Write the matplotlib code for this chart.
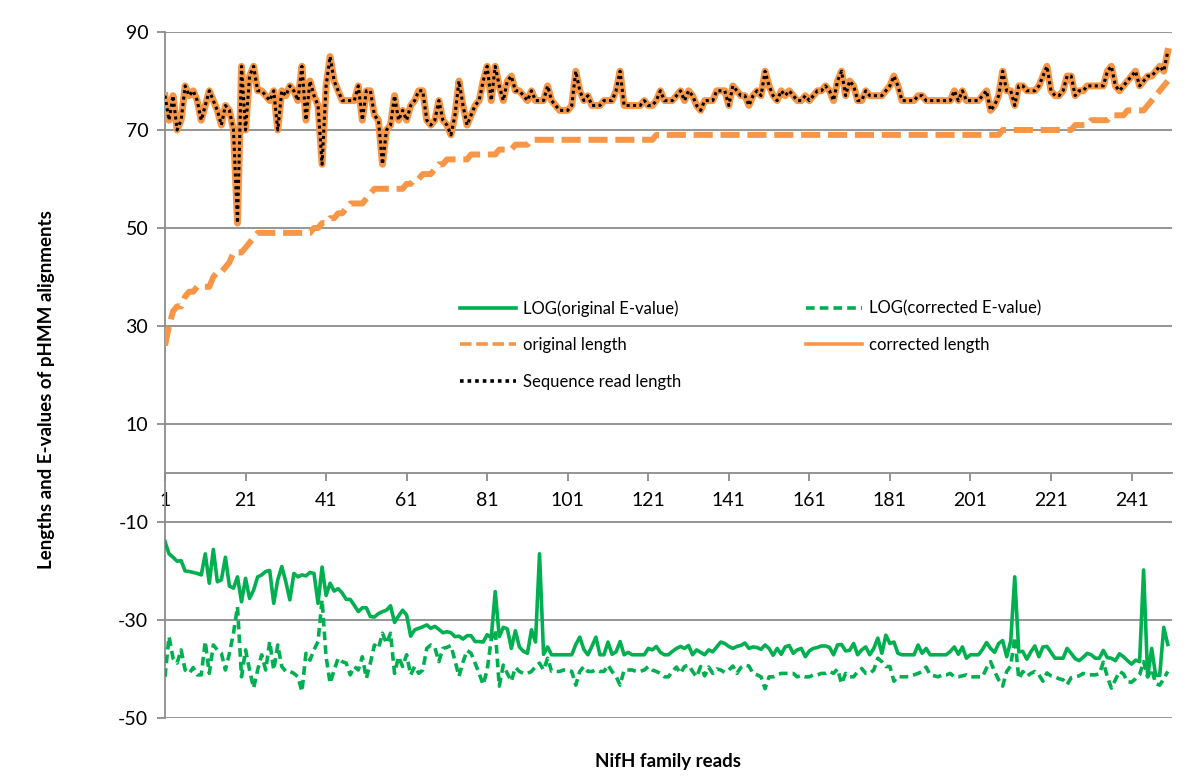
import numpy as np
import matplotlib
matplotlib.use('Agg')
import matplotlib.pyplot as plt

plt.rcParams['font.family'] = ['Lato', 'DejaVu Sans']
plt.rcParams['axes.unicode_minus'] = False

# Sequence read length (black dotted) and corrected length (orange solid) coincide
seq_read_len = [
    77, 72, 77, 70, 72, 79, 77, 78, 76, 72, 75, 78, 76, 74, 71, 75, 74, 70, 51, 83,
    70, 81, 83, 78, 78, 77, 76, 78, 70, 78, 77, 79, 78, 76, 83, 72, 80, 77, 75, 63,
    79, 85, 80, 78, 76, 76, 76, 76, 79, 72, 78, 78, 73, 72, 63, 70, 71, 77, 72, 74,
    72, 75, 76, 78, 78, 72, 71, 72, 76, 72, 71, 69, 73, 80, 75, 71, 73, 75, 76, 80,
    83, 76, 83, 79, 76, 80, 81, 78, 78, 77, 76, 78, 76, 76, 76, 79, 76, 75, 74, 74,
    74, 75, 82, 78, 76, 77, 75, 75, 75, 76, 76, 76, 78, 82, 75, 75, 75, 75, 75, 76,
    75, 75, 76, 78, 76, 76, 76, 77, 78, 76, 78, 77, 75, 74, 76, 76, 76, 78, 78, 78,
    75, 79, 78, 77, 77, 75, 77, 78, 77, 82, 79, 77, 76, 78, 77, 78, 77, 76, 76, 77,
    76, 77, 78, 78, 79, 78, 76, 80, 82, 77, 80, 79, 76, 76, 78, 77, 77, 77, 77, 78,
    79, 81, 79, 76, 76, 76, 76, 77, 77, 76, 76, 76, 76, 76, 76, 76, 78, 76, 78, 76,
    76, 76, 76, 77, 78, 74, 75, 77, 82, 78, 78, 75, 79, 79, 78, 78, 78, 79, 81, 83,
    78, 77, 77, 78, 81, 81, 77, 78, 78, 79, 79, 79, 79, 79, 82, 83, 79, 78, 79, 80,
    81, 82, 79, 80, 81, 81, 82, 83, 82, 86,
]
corrected_len = list(seq_read_len)

original_len = [
    26, 30, 33, 34, 34, 36, 37, 37, 38, 38, 38, 38, 40, 41, 41, 42, 43, 45, 45, 45,
    46, 47, 48, 49, 49, 49, 49, 49, 49, 49, 49, 49, 49, 49, 49, 49, 49, 50, 50, 51,
    51, 52, 52, 53, 53, 54, 55, 55, 55, 55, 56, 57, 58, 58, 58, 58, 58, 58, 58, 58,
    59, 59, 60, 60, 61, 61, 61, 62, 63, 63, 64, 64, 64, 64, 64, 64, 65, 65, 65, 65,
    65, 65, 65, 66, 66, 66, 66, 67, 67, 67, 67, 68, 68, 68, 68, 68, 68, 68, 68, 68,
    68, 68, 68, 68, 68, 68, 68, 68, 68, 68, 68, 68, 68, 68, 68, 68, 68, 68, 68, 68,
    68, 68, 69, 69, 69, 69, 69, 69, 69, 69, 69, 69, 69, 69, 69, 69, 69, 69, 69, 69,
    69, 69, 69, 69, 69, 69, 69, 69, 69, 69, 69, 69, 69, 69, 69, 69, 69, 69, 69, 69,
    69, 69, 69, 69, 69, 69, 69, 69, 69, 69, 69, 69, 69, 69, 69, 69, 69, 69, 69, 69,
    69, 69, 69, 69, 69, 69, 69, 69, 69, 69, 69, 69, 69, 69, 69, 69, 69, 69, 69, 69,
    69, 69, 69, 69, 69, 69, 69, 69, 70, 70, 70, 70, 70, 70, 70, 70, 70, 70, 70, 70,
    70, 70, 70, 70, 70, 70, 71, 71, 71, 71, 72, 72, 72, 72, 72, 73, 73, 73, 73, 74,
    74, 74, 74, 74, 75, 76, 77, 78, 79, 80,
]

log_orig_e = [
    -14, -16.5, -17.2, -18, -17.9, -20, -20.1, -20.3, -20.5, -20.8,
    -16.5, -22.5, -15.6, -22.2, -21.8, -17.2, -23.1, -23.5, -21.2, -26.3,
    -21.5, -25.6, -23.9, -21.2, -20.8, -20.1, -19.9, -26.6, -21.8, -19.1,
    -22.2, -25.9, -20.5, -21.2, -20.8, -21, -20.3, -20.5, -26.6, -19.2,
    -25, -22.5, -24.1, -23.6, -24.5, -25.8, -25.8, -27, -28.3, -27.5,
    -27.5, -29.3, -29.4, -28.7, -28.3, -28, -27.1, -30.5, -29.2, -28,
    -29, -33.3, -32, -31.7, -31.4, -31, -31.7, -31.3, -31.9, -32.6,
    -32.4, -32.6, -33.4, -33.3, -33.9, -33.2, -33.2, -34.4, -34.4, -34.5,
    -33, -33.6, -24.2, -33.4, -31.5, -31.8, -35.8, -32.2, -35.5, -36.4,
    -36.8, -32, -34.5, -16.5, -37, -35.5, -37.1, -37.1, -37.1, -37.1,
    -37.1, -37.1, -35, -33.5, -36, -37.1, -35.4, -33.5, -37.1, -37.1,
    -34.5, -37, -36.5, -34.4, -37.1, -36.6, -37.1, -37.1, -37.1, -37.1,
    -35.8, -36.1, -35.4, -36.6, -37.1, -37.1, -36.4, -35.8, -35.4, -35.8,
    -35.2, -37.1, -36.1, -36.6, -37.1, -36.1, -36.5, -35.5, -34.5, -34.8,
    -35.4, -35.8, -35.4, -35.2, -34.7, -35.8, -35.5, -35.6, -36, -35.1,
    -35.8, -37.2, -35.8, -37, -35.5, -35.2, -36.8, -36.1, -35.8, -37.5,
    -36.3, -35.8, -35.6, -35.3, -35.3, -35.6, -37.1, -35.1, -35, -36.3,
    -36.2, -34.8, -37.1, -36.1, -35.5, -37.1, -35.8, -33.7, -36.8, -33.1,
    -34.8, -34.5, -36.8, -37.1, -37.1, -37.1, -37.1, -35.1, -36.8, -35.8,
    -37.1, -37.1, -37.1, -37.1, -37.1, -36.4, -35.5, -37, -35.5, -37.8,
    -37.1, -37.1, -37.1, -36, -34.6, -35.8, -36.6, -34.8, -34.2, -37.5,
    -34.3, -21.2, -36.5, -36.4, -38, -36.5, -35.3, -37.5, -35.5, -35.4,
    -36.6, -37.8, -37.8, -37.8, -35.8, -36.8, -37.9, -38.3, -37.6, -36.8,
    -37.1, -37.8, -37.8, -36.2, -37.7, -37.8, -38.3, -36.9, -37.5, -38.3,
    -39, -38.2, -38.5, -19.8, -41.6, -35.8, -41.3, -41.3, -31.5, -35,
]

log_corr_e = [
    -41.6, -33.4, -37.8, -38.8, -36.1, -40.2, -40.9, -39.7, -41.2, -41.2,
    -34.4, -40.9, -35.1, -36.1, -36.8, -40.2, -36.8, -32.7, -27.3, -41.6,
    -36.1, -40.2, -43.9, -40.2, -37.1, -40.2, -34.4, -40.2, -35.1, -39.5,
    -40.5, -40.5, -40.9, -41.6, -44.6, -36.8, -38.2, -36.1, -34.4, -25.9,
    -37.5, -42.9, -40.2, -37.8, -38.5, -38.8, -41.2, -39.5, -40.2, -37.5,
    -41.9, -38.8, -35.1, -35.8, -32.7, -34.8, -32.7, -40.9, -37.5, -39.5,
    -37.1, -41.2, -39.5, -40.9, -40.2, -35.8, -35.1, -35.6, -38.5, -35.8,
    -35.6, -35.2, -38.3, -41.5, -38.6, -36.2, -36.8, -38.8, -40.9, -43.2,
    -40.2, -34, -32, -43.5, -39.2, -40.9, -42.5, -39.7, -40.5, -40.9,
    -40.9, -40.5, -39.5, -38.8, -40.2, -37.8, -40.5, -40.5, -40.5, -40.2,
    -40.2, -40.5, -43.3, -40.5, -39.5, -40.5, -40.5, -40.2, -40.5, -40.5,
    -39.2, -40.5, -41.5, -43.3, -40.2, -40.2, -40.2, -40.5, -40.5, -40.2,
    -39.5, -40.2, -40.5, -40.9, -41.6, -41.6, -40.5, -39.6, -40.9, -39.5,
    -39.2, -40.5, -41.6, -39.5, -41.4, -39.6, -40.9, -40, -40.2, -40.7,
    -40.2, -39.4, -40.9, -39.7, -39.2, -39.4, -40.9, -41.2, -41.6, -44,
    -41.6, -41.6, -41.2, -40.9, -40.9, -40.9, -40.9, -41.6, -41.3, -41.6,
    -41.6, -41.2, -41.2, -40.9, -40.9, -40.5, -40.9, -40, -43, -40.9,
    -41.6, -41.6, -40.5, -39.9, -40.9, -40.9, -40.2, -37.8, -38.5, -39.5,
    -39.5, -42.5, -41.5, -41.6, -41.6, -41.5, -41.2, -40.9, -40.5, -39.6,
    -41.2, -41.4, -41.6, -41.2, -41.2, -40.9, -41.6, -41.6, -41.4, -41.2,
    -41.6, -41.6, -41.6, -41.6, -39.8, -38.5, -40.5, -42.2, -43.5, -40.5,
    -39.4, -33.5, -42, -40.5, -41.5, -40.9, -40.5, -41.2, -42.5, -40.8,
    -41.4, -41.6, -42, -42.2, -43.2, -41.8, -41.6, -41.4, -40.9, -41.2,
    -41.2, -41.2, -41, -38.6, -41.6, -43.9, -42.2, -40.5, -41, -42.6,
    -42.7, -42, -41.2, -38.5, -41.6, -40, -43, -43.3, -42, -40.5,
]

reads = np.arange(1, len(seq_read_len) + 1)
xtick_labels = list(range(1, 242, 20))
yticks = [-50, -30, -10, 10, 30, 50, 70, 90]

green = '#00B050'
orange = '#F79646'
grid_col = '#8C8C8C'

fig = plt.figure(figsize=(12, 7.8), dpi=100)
ax = fig.add_axes([0.1375, 0.0795, 0.839, 0.8795])

l1, = ax.plot(reads, log_orig_e, color=green, lw=2.6, label='LOG(original E-value)', zorder=3)
l2, = ax.plot(reads, log_corr_e, color=green, lw=2.6, dashes=(2.4, 1.4),
              label='LOG(corrected E-value)', zorder=3)
l3, = ax.plot(reads, original_len, color=orange, lw=4.3, dashes=(3.2, 1.3),
              label='original length', zorder=4)
l4, = ax.plot(reads, corrected_len, color=orange, lw=5.0, label='corrected length', zorder=5)
l5, = ax.plot(reads, seq_read_len, color='black', lw=2.2, dashes=(1, 1.1),
              label='Sequence read length', zorder=6)

ax.set_xlim(1, 251)
ax.set_ylim(-50, 90)
ax.set_yticks(yticks)
ax.set_xticks(xtick_labels)
ax.yaxis.grid(True, color=grid_col, lw=1.3)
ax.set_axisbelow(True)

ax.spines['bottom'].set_position(('data', 0))
ax.spines['bottom'].set_color(grid_col)
ax.spines['bottom'].set_linewidth(1.3)
ax.spines['left'].set_color(grid_col)
ax.spines['left'].set_linewidth(1.3)
ax.spines['top'].set_visible(False)
ax.spines['right'].set_visible(False)
ax.tick_params(axis='both', colors=grid_col, labelcolor='black', labelsize=14,
               length=6, width=1.3, direction='out')
ax.tick_params(axis='y', pad=6)
ax.tick_params(axis='x', pad=8)

fig.text(0.039, 0.5, 'Lengths and E-values of pHMM alignments', rotation=90,
         ha='center', va='center', fontsize=13.5, fontweight='bold')
fig.text(0.557, 0.024, 'NifH family reads', ha='center', va='center',
         fontsize=13.5, fontweight='bold')

# legend thin lines, as in the reference key
leg = ax.legend(handles=[l1, l3, l5, l2, l4], ncol=2, loc='upper left',
                bbox_to_anchor=(0.2863, 0.6185), frameon=False, fontsize=12,
                handlelength=3.35, handletextpad=0.42, columnspacing=7.5,
                labelspacing=1.22, borderaxespad=0)
for h in leg.get_lines():
    h.set_linewidth(2.6)

fig.savefig('out.png', dpi=100)
